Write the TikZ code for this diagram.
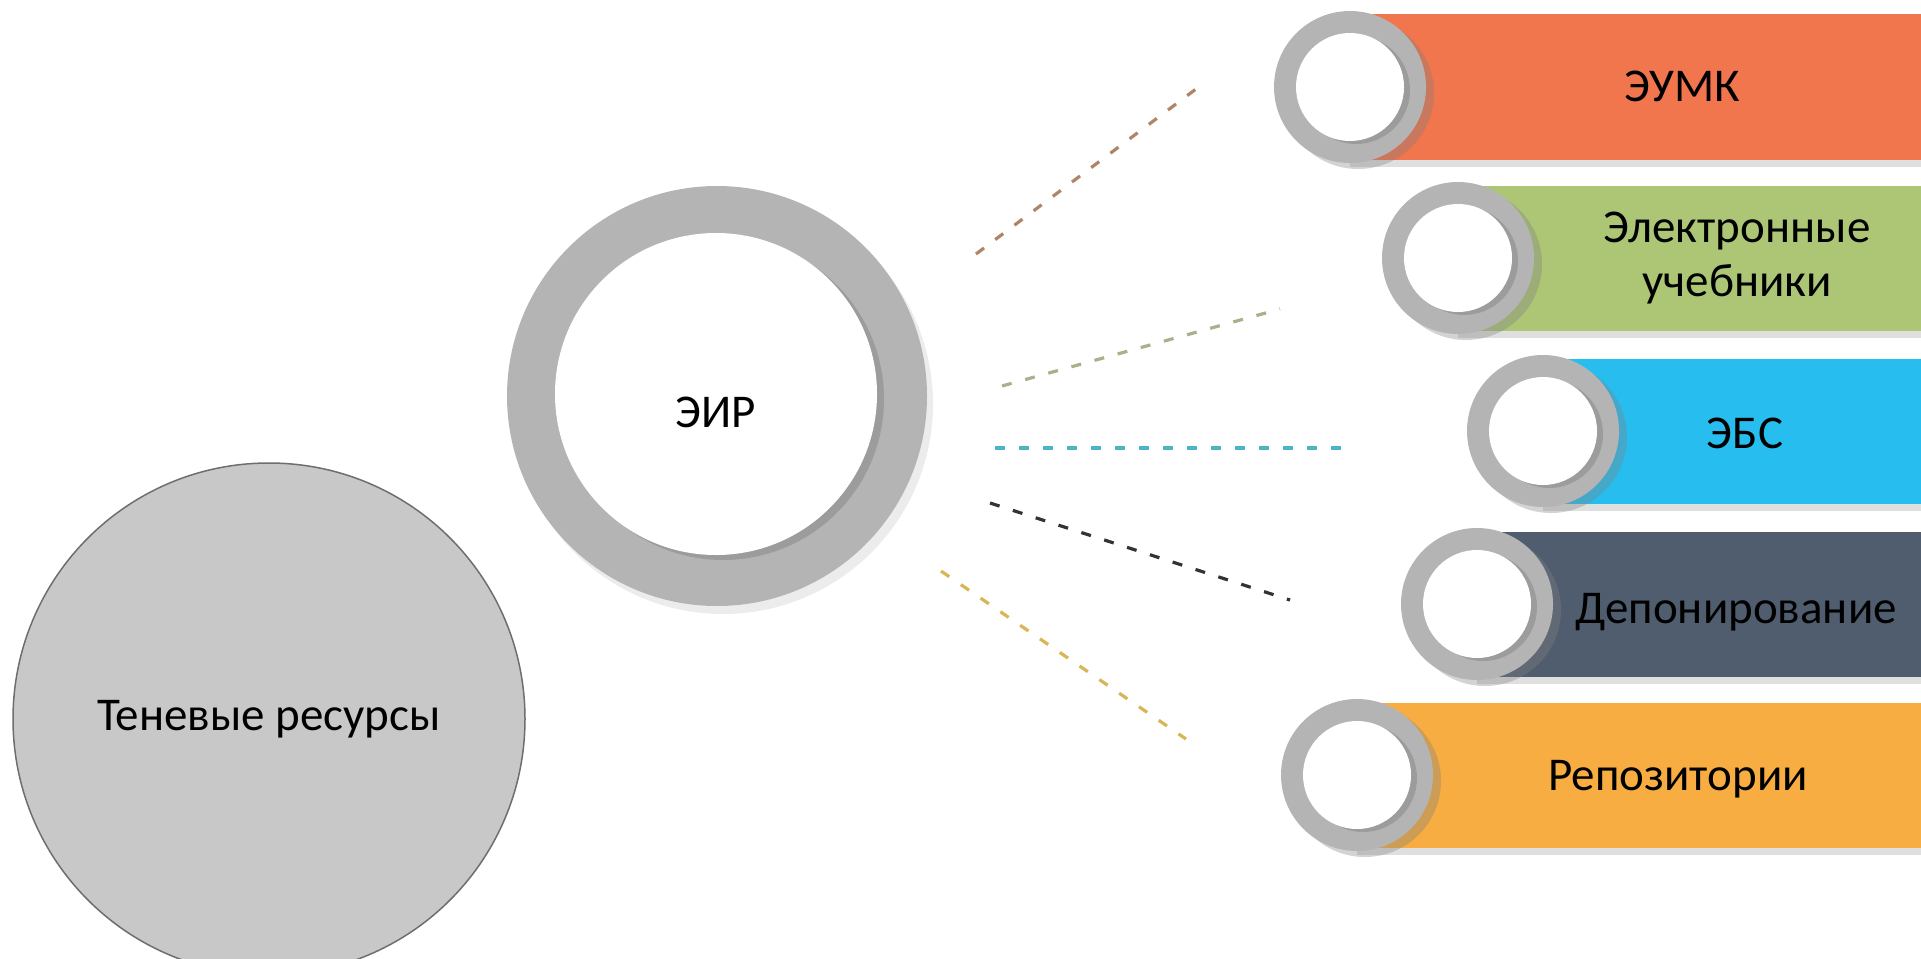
\documentclass[tikz,border=0pt]{standalone}
\usepackage{fontspec}
\setmainfont{Carlito}
\usetikzlibrary{positioning,shadows}

\definecolor{umk}{HTML}{F1754D}
\definecolor{book}{HTML}{ADC676}
\definecolor{ebs}{HTML}{27BEEF}
\definecolor{dep}{HTML}{505D6E}
\definecolor{repo}{HTML}{F7AD41}
\definecolor{ringgray}{HTML}{B4B4B4}
\definecolor{eirgray}{HTML}{B4B4B4}
\definecolor{shadowfill}{HTML}{C8C8C8}
\definecolor{shadowline}{HTML}{6E6E6E}
\definecolor{dashA}{HTML}{B08466}
\definecolor{dashB}{HTML}{A9B08A}
\definecolor{dashC}{HTML}{4FB3C8}
\definecolor{dashD}{HTML}{333333}
\definecolor{dashE}{HTML}{D9B555}

\tikzset{
  every bar/.style={rectangle, anchor=west, inner sep=0pt, minimum height=145pt,
    drop shadow={shadow xshift=0pt, shadow yshift=-7pt, opacity=.25}},
  every ring/.style={circle, fill=ringgray, inner sep=0pt, minimum size=152pt,
    drop shadow={shadow xshift=8pt, shadow yshift=-6pt, opacity=.35}},
  every hole/.style={circle, fill=white, inner sep=0pt, minimum size=108pt,
    drop shadow={shadow xshift=6pt, shadow yshift=-3pt, opacity=.45}},
  link/.style={line width=3.2pt, dash pattern=on 10pt off 14pt}
}

\begin{document}
\begin{tikzpicture}[x=1pt, y=-1pt, font=\fontsize{47}{54}\selectfont]

\useasboundingbox (0,0) rectangle (1921,958);

\node [circle, fill=shadowfill, draw=shadowline, line width=1.5pt, minimum size=512pt]
  (shadow) at (269,719) {Теневые ресурсы};

\node [circle, fill=eirgray, minimum size=420pt,
  drop shadow={shadow xshift=6pt, shadow yshift=-8pt, opacity=.15}] (eir-ring) at (717,396) {};
\node [circle, fill=white, minimum size=322pt,
  drop shadow={shadow xshift=7pt, shadow yshift=-5pt, opacity=.45}] (eir) at (716,394) {};
\node (eir-label) at ([yshift=-18pt]eir.center) {ЭИР};

% bars with rings
\foreach \c/\x/\y [count=\i] in {umk/1350/87, book/1458/258, ebs/1543/431, dep/1477/604, repo/1357/775}
{
  \node [every bar/.try, fill=\c, minimum width={1921-\x}] (bar-\i) at (\x,\y) {};
  \node [every ring/.try] (ring-\i) at (\x,\y) {};
  \node [every hole/.try] (hole-\i) at (\x,\y) {};
}

\foreach \l/\x/\y [count=\i] in {ЭУМК/1682/86, {Электронные\\учебники}/1737/258,
    ЭБС/1745/433, Депонирование/1736/612, Репозитории/1678/779}
  \node [align=center] (label-\i) at (\x,\y) {\l};

% dashed links
\foreach \c/\ax/\ay/\bx/\by [count=\i] in {dashA/976/254/1204/83, dashB/1002/386/1280/309,
    dashC/995/448/1344/448, dashD/990/503/1290/600, dashE/941/571/1186/739}
{
  \coordinate (from-\i) at (\ax,\ay);
  \coordinate (to-\i) at (\bx,\by);
  \draw [link, \c] (from-\i) -- (to-\i);
}

\end{tikzpicture}
\end{document}
